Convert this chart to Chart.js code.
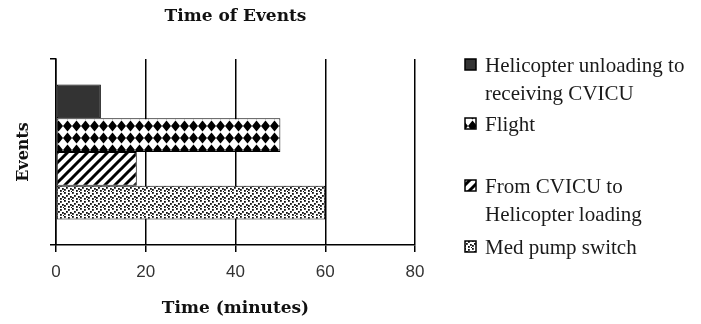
<!DOCTYPE html>
<html>
<head>
<meta charset="utf-8">
<script src="https://cdn.jsdelivr.net/npm/chart.js@4/dist/chart.umd.min.js"></script>
<style>
  body { margin: 0; background: #fff; }
  canvas { display: block; }
</style>
</head>
<body>
<canvas id="events" width="701" height="324"></canvas>
<script>
// values
const eventLabels = [
  ['Helicopter unloading to', 'receiving CVICU'],
  ['Flight'],
  ['From CVICU to', 'Helicopter loading'],
  ['Med pump switch']
];
const eventMinutes = [10, 50, 18, 60];
const xTicks = [0, 20, 40, 60, 80];

const chartTitle = 'Time of Events';
const xTitle = 'Time (minutes)';
const yTitle = 'Events';

function makePattern(w, h, draw) {
  const c = document.createElement('canvas');
  c.width = w;
  c.height = h;
  const g = c.getContext('2d');
  g.fillStyle = '#fff';
  g.fillRect(0, 0, w, h);
  draw(g);
  return g.createPattern(c, 'repeat');
}

const solidDark = '#333333';

const diamonds = makePattern(9, 12, g => {
  g.fillStyle = '#000';
  g.beginPath();
  g.moveTo(4.5, 0.5);
  g.lineTo(9, 6);
  g.lineTo(4.5, 11.5);
  g.lineTo(0, 6);
  g.closePath();
  g.fill();
});

const hatch = makePattern(10, 10, g => {
  g.strokeStyle = '#000';
  g.lineWidth = 3;
  g.beginPath();
  g.moveTo(-1, 11); g.lineTo(11, -1);
  g.moveTo(-1, 1); g.lineTo(1, -1);
  g.moveTo(9, 11); g.lineTo(11, 9);
  g.stroke();
});

const stipple = makePattern(8, 8, g => {
  g.fillStyle = '#111';
  [[0, 0], [4, 1], [2, 3], [6, 4], [0, 5], [4, 6], [7, 7]].forEach(([x, y]) => {
    g.fillRect(x, y, 1.8, 1.8);
  });
});

const fills = [solidDark, diamonds, hatch, stipple];

// legend and title drawn on the canvas (legend text wraps over two lines)
const sideLegend = {
  id: 'sideLegend',
  afterDraw(chart) {
    const ctx = chart.ctx;
    const area = chart.chartArea;
    ctx.save();
    ctx.fillStyle = '#111';
    ctx.font = 'bold 17px "DejaVu Serif"';
    ctx.textAlign = 'center';
    ctx.textBaseline = 'alphabetic';
    ctx.fillText(chartTitle, (area.left + area.right) / 2, 21);

    const baselines = [[72, 100], [131], [193, 221], [254]];
    ctx.font = '21px "Liberation Serif"';
    ctx.textAlign = 'left';
    eventLabels.forEach((lines, i) => {
      const b = baselines[i];
      ctx.fillStyle = fills[i];
      ctx.fillRect(465, b[0] - 13, 11, 11);
      ctx.strokeStyle = '#000';
      ctx.lineWidth = 1.5;
      ctx.strokeRect(465, b[0] - 13, 11, 11);
      ctx.fillStyle = '#1a1a1a';
      lines.forEach((t, j) => ctx.fillText(t, 485, b[j]));
    });
    ctx.restore();
  }
};

new Chart(document.getElementById('events'), {
  type: 'bar',
  data: {
    labels: [''],
    datasets: eventLabels.map((lines, i) => ({
      label: lines.join(' '),
      data: [eventMinutes[i]],
      backgroundColor: fills[i],
      borderColor: '#000',
      borderWidth: 1,
      borderSkipped: false,
      categoryPercentage: 0.726,
      barPercentage: 1
    }))
  },
  options: {
    indexAxis: 'y',
    responsive: false,
    animation: false,
    layout: {
      padding: { top: 59, right: 286, left: 0, bottom: 0 }
    },
    plugins: {
      legend: { display: false },
      title: { display: false },
      tooltip: { enabled: false }
    },
    scales: {
      x: {
        min: xTicks[0],
        max: xTicks[xTicks.length - 1],
        afterBuildTicks: scale => {
          scale.ticks = xTicks.map(v => ({ value: v }));
        },
        afterFit: scale => { scale.height = 79; },
        grid: {
          color: '#000',
          lineWidth: 1.5,
          tickLength: 7,
          drawTicks: true
        },
        border: { color: '#000', width: 1.5 },
        ticks: {
          color: '#333',
          padding: 10,
          font: { family: '"Liberation Sans"', size: 17 }
        },
        title: {
          display: true,
          text: xTitle,
          color: '#111',
          padding: { top: 0, bottom: 5 },
          font: { family: '"DejaVu Serif"', size: 17, weight: 'bold' }
        }
      },
      y: {
        afterFit: scale => { scale.width = 56; },
        grid: {
          color: '#000',
          lineWidth: 1.5,
          drawOnChartArea: false,
          tickLength: 6
        },
        border: { color: '#000', width: 1.5 },
        ticks: { display: false },
        title: {
          display: true,
          text: yTitle,
          color: '#111',
          padding: { top: 14, bottom: 0 },
          font: { family: '"DejaVu Serif"', size: 16, weight: 'bold' }
        }
      }
    }
  },
  plugins: [sideLegend]
});
</script>
</body>
</html>
